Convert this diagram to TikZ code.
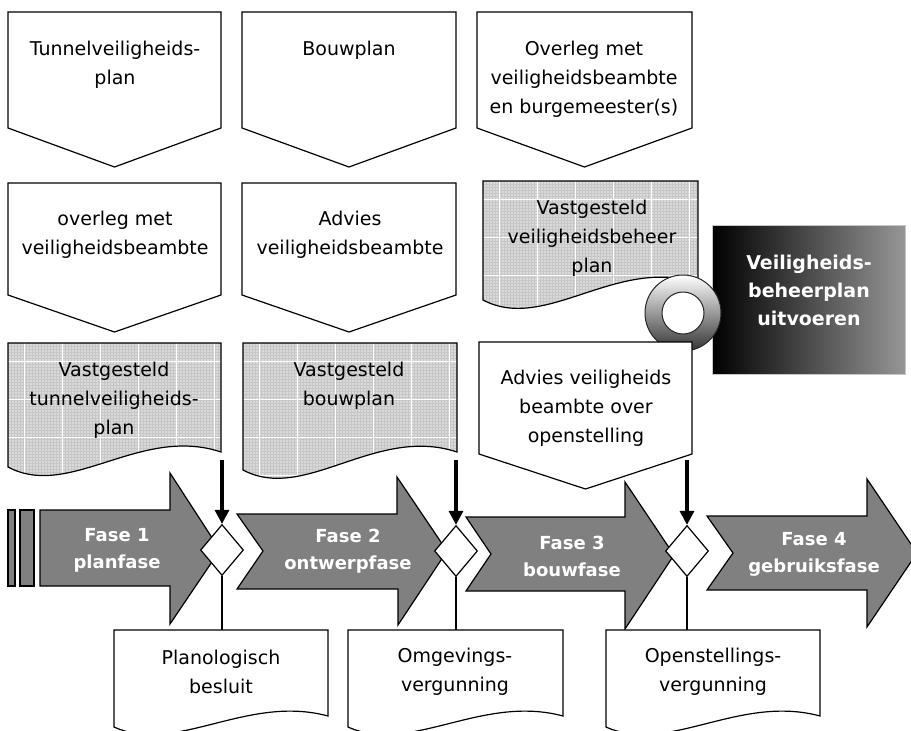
\documentclass[tikz,border=0pt]{standalone}
\usepackage{fontspec}
\setmainfont{DejaVu Sans}
\usetikzlibrary{shapes.geometric,arrows.meta}
\definecolor{phasegray}{RGB}{128,128,128}
\definecolor{docgray}{RGB}{218,218,218}
\definecolor{boxright}{RGB}{150,150,150}
\newcommand\drawpent[5]{\draw[pent] (#1,#3) -- (#2,#3) -- (#2,#4) -- ({(#1+#2)/2},#5) -- (#1,#4) -- cycle;}
\newcommand\graydoc[5]{%
  \begin{scope}
    \clip (#1,#3) -- (#2,#3) -- (#2,#5) .. controls ({#1+0.62*(#2-#1)},{#5-27}) and ({#1+0.29*(#2-#1)},{#4+33}) .. (#1,#4) -- cycle;
    \fill[docgray] (#1,#3) rectangle (#2,{#4+40});
    \foreach \i in {0,3,...,216} {\draw[fine] ({#1+\i},#3) -- ++(0,170);}
    \foreach \i in {0,3,...,170} {\draw[fine] (#1,{#3+\i}) -- ++(216,0);}
    \foreach \i in {16,54,...,216} {\draw[whiteline] ({#1+\i},#3) -- ++(0,170);}
    \foreach \i in {18,56,...,170} {\draw[whiteline] (#1,{#3+\i}) -- ++(216,0);}
  \end{scope}
  \draw[shp] (#1,#3) -- (#2,#3) -- (#2,#5) .. controls ({#1+0.62*(#2-#1)},{#5-27}) and ({#1+0.29*(#2-#1)},{#4+33}) .. (#1,#4) -- cycle;}
\newcommand\whitedoc[5]{%
  \draw[shp, fill=white] (#1,#3) -- (#2,#3) -- (#2,#5) .. controls ({#1+0.62*(#2-#1)},{#5-22}) and ({#1+0.29*(#2-#1)},{#4+28}) .. (#1,#4) -- cycle;}
\begin{document}
\begin{tikzpicture}[x=1pt,y=-1pt,
  shp/.style={draw=black, line width=1.2pt, line join=miter},
  pent/.style={shp, fill=white},
  phasearrow/.style={shp, fill=phasegray},
  txt/.style={inner sep=0pt, align=center, font=\fontsize{19}{29}\selectfont},
  phtxt/.style={inner sep=0pt, align=center, text=white, font=\fontsize{18}{27}\selectfont\bfseries},
  boxtxt/.style={inner sep=0pt, align=center, text=white, font=\fontsize{19}{28}\selectfont\bfseries},
  dia/.style={shape=diamond, draw=black, line width=1.2pt, fill=white, aspect=0.84, minimum width=43pt, minimum height=51pt, inner sep=0pt},
  bigarrow/.style={line width=3.2pt, -{Triangle[width=14pt,length=14pt]}},
  thinline/.style={line width=1.3pt},
  fine/.style={draw=gray!45, line width=0.3pt},
  whiteline/.style={draw=white, line width=1pt}]
\clip (0,0) rectangle (911,731);
\fill[white] (0,0) rectangle (911,731);

% row 1 pentagons
\drawpent{8}{221}{12}{128}{167}
\drawpent{242}{456}{12}{128}{167}
\drawpent{477}{692}{12}{128}{167}
% row 2 pentagons
\drawpent{8}{221}{183}{295}{332}
\drawpent{242}{456}{183}{295}{332}

% grey documents
\graydoc{8}{221}{343}{467}{452}
\graydoc{243}{457}{343}{470}{452}
\graydoc{483}{698}{181}{300}{283}

% gradient box and ring
\shade[left color=black, right color=boxright] (712,225) rectangle (905,374);
\draw[gray!45, line width=0.6pt] (712,225) rectangle (905,374);
\shade[top color=white, bottom color=black!80] (683,313) circle[radius=38pt];
\draw[line width=1pt, black!85] (683,313) circle[radius=38pt];
\draw[line width=1pt, black!85, fill=white] (683,313) circle[radius=21pt];

% Advies pentagon
\drawpent{479}{692}{342}{454}{489}

% phase arrows
\fill[phasearrow] (8,510) rectangle (15,586);
\fill[phasearrow] (20,510) rectangle (34,586);
\draw[phasearrow] (40,510) -- (170,510) -- (170,473) -- (220,550) -- (170,624) -- (170,586) -- (40,586) -- cycle;
\draw[phasearrow] (237,514) -- (397,514) -- (397,477) -- (447,551) -- (398,625) -- (398,589) -- (237,589) -- (263,551) -- cycle;
\draw[phasearrow] (466,517) -- (625,517) -- (625,482) -- (674,555) -- (625,629) -- (625,591) -- (466,591) -- (491,554) -- cycle;
\draw[phasearrow] (707,516) -- (867,516) -- (867,479) -- (917,553) -- (867,627) -- (867,590) -- (707,590) -- (733,553) -- cycle;

% diamonds
\node[dia] (d1) at (222,550) {};
\node[dia] (d2) at (456,551) {};
\node[dia] (d3) at (687,551) {};

% bottom documents
\whitedoc{114}{328}{630}{727}{716}
\whitedoc{348}{563}{630}{727}{716}
\whitedoc{606}{820}{630}{727}{716}

% connectors
\coordinate (a1) at (222,460);
\coordinate (a2) at (456,460);
\coordinate (a3) at (687,460);
\coordinate (b1) at (222,630);
\coordinate (b2) at (456,630);
\coordinate (b3) at (687,630);
\draw[bigarrow] (a1) -- (d1.north);
\draw[bigarrow] (a2) -- (d2.north);
\draw[bigarrow] (a3) -- (d3.north);
\draw[thinline] (d1.south) -- (b1);
\draw[thinline] (d2.south) -- (b2);
\draw[thinline] (d3.south) -- (b3);

% texts
\node[txt] (p1) at (115,65) {Tunnelveiligheids-\\plan};
\node[txt] (p2) at (349,50) {Bouwplan};
\node[txt] (p3) at (584,79) {Overleg met\\veiligheidsbeambte\\en burgemeester(s)};
\node[txt] (q1) at (115,235) {overleg met\\veiligheidsbeambte};
\node[txt] (q2) at (350,235) {Advies\\veiligheidsbeambte};
\node[txt] (g1) at (114,400) {Vastgesteld\\tunnelveiligheids-\\plan};
\node[txt] (g2) at (349,386) {Vastgesteld\\bouwplan};
\node[txt] (g3) at (592,238) {Vastgesteld\\veiligheidsbeheer\\plan};
\node[txt] (adv) at (586,408) {Advies veiligheids\\beambte over\\openstelling};
\node[boxtxt] (vbp) at (809,290) {Veiligheids-\\beheerplan\\uitvoeren};
\node[phtxt] (f1) at (117,550) {Fase 1\\planfase};
\node[phtxt] (f2) at (348,551) {Fase 2\\ontwerpfase};
\node[phtxt] (f3) at (572,556) {Fase 3\\bouwfase};
\node[phtxt] (f4) at (814,554) {Fase 4\\gebruiksfase};
\node[txt] (bd1) at (221,672) {Planologisch\\besluit};
\node[txt] (bd2) at (455,672) {Omgevings-\\vergunning};
\node[txt] (bd3) at (713,672) {Openstellings-\\vergunning};
\end{tikzpicture}
\end{document}
